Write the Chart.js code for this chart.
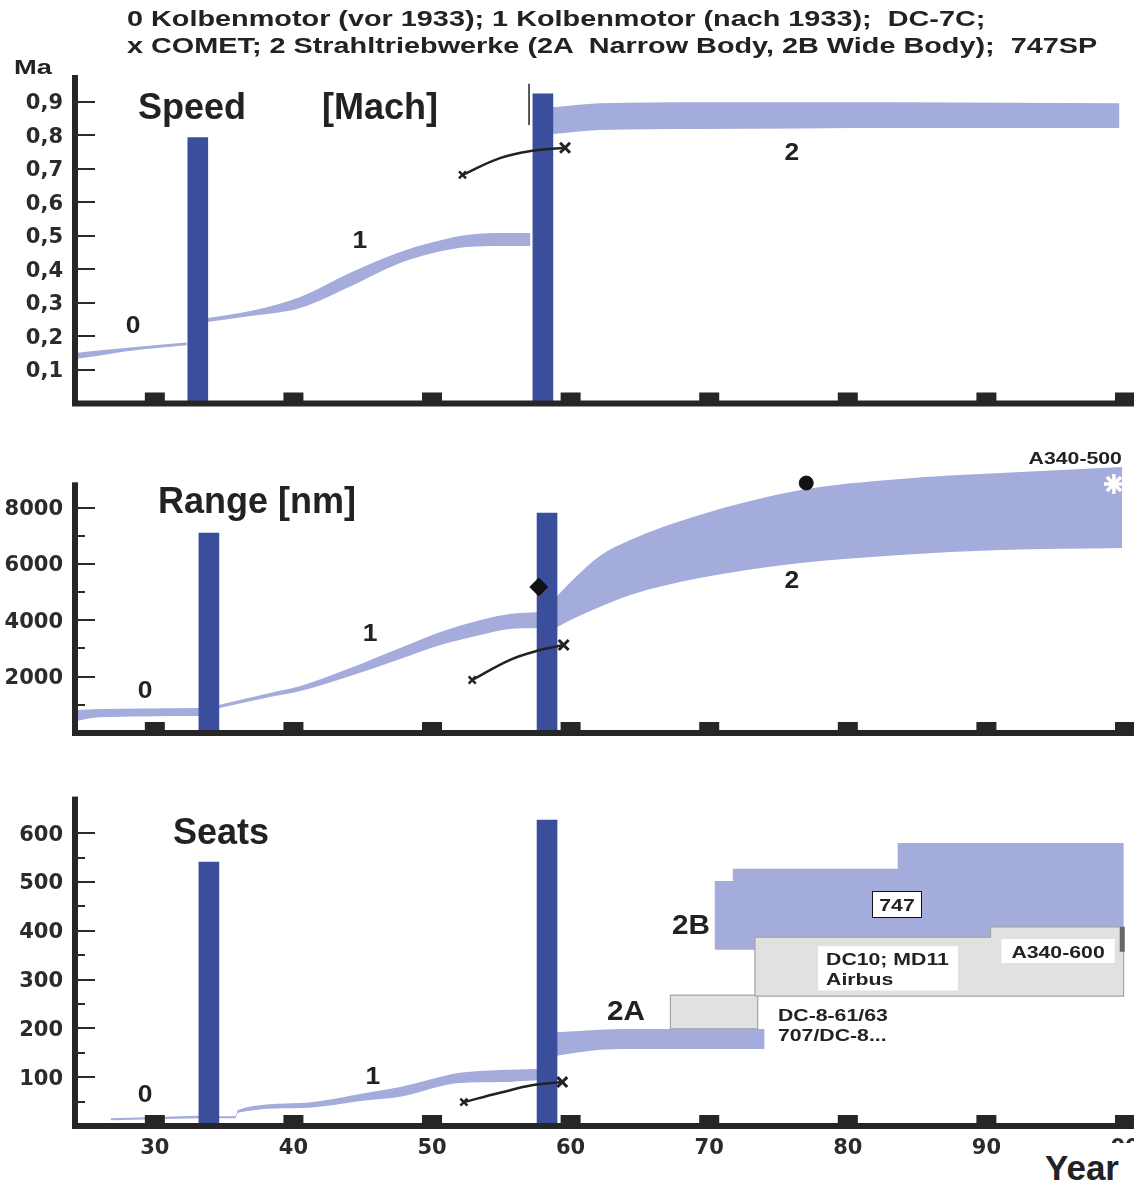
<!DOCTYPE html>
<html lang="de">
<head>
<meta charset="utf-8">
<title>Speed, Range, Seats</title>
<script src="https://cdn.jsdelivr.net/npm/chart.js@4/dist/chart.umd.min.js"></script>
<style>
  html, body { margin: 0; padding: 0; background: #fff; }
  body { position: relative; width: 1134px; height: 1187px; overflow: hidden;
         font-family: "Liberation Sans", Arial, sans-serif; color: #222; }
  canvas { position: absolute; left: 0; }
  #title { position: absolute; left: 127px; top: 5px; font-weight: bold; font-size: 22px;
           line-height: 27px; white-space: pre; transform: scaleX(1.31); transform-origin: 0 0; }
  #ma { position: absolute; left: 14px; top: 55px; font-weight: bold; font-size: 21px;
        line-height: 24px; transform: scaleX(1.3); transform-origin: 0 0; }
  #year { position: absolute; left: 1036px; top: 1143px; width: 98px; height: 44px; background: #fff;
          font-weight: bold; font-size: 35px; line-height: 50px; padding-left: 9px; box-sizing: border-box; }
</style>
</head>
<body>
<canvas id="speed" width="1134" height="420" style="top:0"></canvas>
<canvas id="range" width="1134" height="310" style="top:440px"></canvas>
<canvas id="seats" width="1134" height="407" style="top:780px"></canvas>
<div id="title">0 Kolbenmotor (vor 1933); 1 Kolbenmotor (nach 1933);  DC-7C;
x COMET; 2 Strahltriebwerke (2A  Narrow Body, 2B Wide Body);  747SP</div>
<div id="ma">Ma</div>
<div id="year">Year</div>
<script>
// ---------- shared year axis ----------
const yearTicks = [30, 40, 50, 60, 70, 80, 90, 100];

// ---------- Speed [Mach] ----------
const speedTicks = [0.1, 0.2, 0.3, 0.4, 0.5, 0.6, 0.7, 0.8, 0.9];
const speedStepYears = [33.1, 58.0];
const speedStepValues = [0.793, 0.924];
const speed0Years = [24.3, 24.6, 28.4, 32.3];
const speed0Low = [0.134, 0.135, 0.158, 0.174];
const speed0High = [0.150, 0.152, 0.168, 0.182];
const speed1Years = [33.8, 36.9, 40.5, 44.1, 47.7, 50.1, 52.5, 54.9, 57.1];
const speed1Low = [0.243, 0.261, 0.285, 0.349, 0.419, 0.449, 0.467, 0.470, 0.470];
const speed1High = [0.255, 0.276, 0.318, 0.390, 0.452, 0.482, 0.503, 0.509, 0.509];
const speed2Years = [58.7, 62.1, 69.3, 83.8, 99.6];
const speed2Low = [0.804, 0.816, 0.819, 0.822, 0.822];
const speed2High = [0.884, 0.896, 0.899, 0.899, 0.896];
const speedCometYears = [52.2, 54.9, 57.1, 59.6];
const speedCometValues = [0.682, 0.732, 0.753, 0.763];
const speedMarkYears = [57.0, 57.0];
const speedMarkValues = [0.831, 0.954];

// ---------- Range [nm] ----------
const rangeTicks = [1000, 2000, 3000, 4000, 5000, 6000, 7000, 8000];
const rangeStepYears = [33.9, 58.3];
const rangeStepValues = [7100, 7810];
const range0Years = [24.3, 26.0, 29.0, 33.2];
const range0Low = [430, 560, 590, 600];
const range0High = [816, 850, 870, 887];
const range1Years = [34.6, 38.3, 40.5, 44.1, 47.7, 50.6, 53.5, 55.6, 57.7];
const range1Low = [880, 1278, 1491, 2023, 2627, 3124, 3479, 3692, 3727];
const range1High = [990, 1420, 1668, 2307, 3017, 3585, 4011, 4224, 4295];
const range2Years = [58.4, 60.3, 62.1, 64.3, 69.3, 76.6, 83.8, 91.0, 99.8];
const range2Low = [3585, 4082, 4473, 4899, 5502, 6035, 6319, 6496, 6567];
const range2High = [4544, 5502, 6283, 6851, 7739, 8626, 9017, 9230, 9443];
const rangeCometYears = [52.9, 55.6, 57.8, 59.5];
const rangeCometValues = [1881, 2591, 2946, 3124];
const dc7cYear = [57.7], dc7cRange = [5183];
const b747spYear = [77.0], b747spRange = [8875];
const a340_500Year = [99.2], a340_500Range = [8839];

// ---------- Seats ----------
const seatsTicks = [50, 100, 150, 200, 250, 300, 350, 400, 450, 500, 550, 600];
const seatsStepYears = [33.9, 58.3];
const seatsStepValues = [541, 627];
const seats0Years = [26.8, 33.2];
const seats0Low = [12, 16];
const seats0High = [16, 21];
const seats1Years = [34.6, 35.8, 36.0, 40.5, 45.3, 47.7, 52.0, 54.9, 57.6];
const seats1Low = [16, 16, 27, 37, 53, 60, 88, 90, 94];
const seats1High = [20, 20, 33, 47, 68, 80, 109, 115, 117];
const seats2AYears = [58.4, 62.1, 64.0, 74.0];
const seats2ALow = [141, 156, 158, 158];
const seats2AHigh = [191, 197, 199, 199];
const seats2BYears = [70.4, 71.7, 83.6, 99.9];
const seats2BTops = [502, 527, 580];
const seats2BBase = 361;
const dc10Years = [73.3, 90.3, 99.9];
const dc10Tops = [387, 408];
const dc10Base = 266;
const dc8Years = [67.2, 73.5];
const dc8Tops = [268];
const dc8Base = 199;
const a340_600Years = [99.8, 99.8];
const a340_600Seats = [357, 408];
const seatsCometYears = [52.3, 54.9, 57.3, 59.4];
const seatsCometValues = [49, 68, 84, 90];

// ---------- styling ----------
const BAND = '#a4acdb';
const BAR = '#3a4e9c';
const INK = '#222';
const GREY_FILL = '#e1e1e1';
const GREY_EDGE = '#a3a3a3';
const TICK_FONT = { family: '"DejaVu Sans", sans-serif', weight: 'bold', size: 21 };
const YEAR_MIN = 24.24, YEAR_MAX = 100.65;

const pts = (xs, ys) => xs.map((x, i) => ({ x, y: ys[i] }));

function band(xs, lo, hi) {
  const common = { type: 'line', borderWidth: 0, borderColor: 'transparent', pointRadius: 0,
                   cubicInterpolationMode: 'monotone', order: 5 };
  return [
    { ...common, data: pts(xs, lo), fill: false },
    { ...common, data: pts(xs, hi), fill: '-1', backgroundColor: BAND }
  ];
}

function steps(xs, ys) {
  return { type: 'bar', data: pts(xs, ys), backgroundColor: BAR, borderWidth: 0,
           barThickness: 20, order: 1 };
}

function comet(xs, ys) {
  return { type: 'line', data: pts(xs, ys), borderColor: INK, borderWidth: 2.5, tension: 0.4,
           pointStyle: 'crossRot', pointRadius: [5, 0, 0, 7], pointBorderWidth: [2.5, 0, 0, 3],
           pointBorderColor: INK, pointBackgroundColor: INK, fill: false, order: 0 };
}

function marker(xs, ys, style, radius, fillCol, edgeCol, edgeW) {
  return { type: 'line', data: pts(xs, ys), showLine: false, pointStyle: style, pointRadius: radius,
           pointBackgroundColor: fillCol, pointBorderColor: edgeCol, pointBorderWidth: edgeW, order: 0 };
}

// closed outline of a stepped block: xs are edges, tops the level between them
function stepOutline(xs, tops, base) {
  const out = [{ x: xs[0], y: base }];
  tops.forEach((t, i) => out.push({ x: xs[i], y: t }, { x: xs[i + 1], y: t }));
  out.push({ x: xs[xs.length - 1], y: base }, { x: xs[0], y: base });
  return out;
}

function block(outline, fillCol, edgeCol, order) {
  return { type: 'line', data: outline, fill: 'shape', backgroundColor: fillCol,
           borderColor: edgeCol, borderWidth: edgeCol === 'transparent' ? 0 : 1.2,
           pointRadius: 0, tension: 0, order };
}

// axes, tick marks, year blocks and free labels
const panelDecor = {
  id: 'panelDecor',
  afterDatasetsDraw(chart, args, opts) {
    const { ctx, chartArea: a, scales: { x, y } } = chart;
    ctx.save();
    ctx.fillStyle = '#262626';
    ctx.strokeStyle = '#2a2a2a';
    const top = y.getPixelForValue(opts.axisTop);
    ctx.fillRect(a.left - 3, top, 6, a.bottom - top);
    ctx.lineWidth = 2;
    y.ticks.forEach(t => {
      const py = Math.round(y.getPixelForValue(t.value));
      const len = t.label === '' ? 10 : 20;
      ctx.beginPath();
      ctx.moveTo(a.left, py);
      ctx.lineTo(a.left + len, py);
      ctx.stroke();
    });
    ctx.fillRect(a.left - 3, a.bottom - 3, a.right - a.left + 3, 6);
    x.ticks.forEach(t => {
      const px = x.getPixelForValue(t.value);
      ctx.fillRect(px - 10, a.bottom - 11, 20, 9);
    });
    ctx.restore();
  },
  afterDraw(chart, args, opts) {
    const { ctx, scales: { x, y } } = chart;
    (opts.labels || []).forEach(l => {
      ctx.save();
      const size = l.size || 23, sx = l.sx || 1;
      ctx.font = `bold ${size}px "Liberation Sans", Arial, sans-serif`;
      const lines = l.text.split('\n');
      const lh = size * 1.18;
      const w = Math.max(...lines.map(s => ctx.measureText(s).width)) * sx;
      const h = lh * lines.length;
      const px = x.getPixelForValue(l.x), py = y.getPixelForValue(l.y);
      const left = l.align === 'left' ? px : l.align === 'right' ? px - w : px - w / 2;
      const topY = py - h / 2;
      if (l.box) {
        const bw = l.boxW || w + 2 * (l.padX || 7);
        const bh = h + 2 * (l.padY || 3);
        const bx = l.align === 'left' ? left - (l.padX || 7) : px - bw / 2;
        ctx.fillStyle = '#fff';
        ctx.fillRect(bx, py - bh / 2, bw, bh);
        if (l.border) {
          ctx.strokeStyle = '#111';
          ctx.lineWidth = 1;
          ctx.strokeRect(Math.round(bx) + 0.5, Math.round(py - bh / 2) + 0.5, Math.round(bw), Math.round(bh));
        }
      }
      ctx.fillStyle = l.color || INK;
      ctx.textBaseline = 'middle';
      ctx.textAlign = 'left';
      lines.forEach((s, i) => {
        ctx.save();
        ctx.translate(left, topY + lh * (i + 0.5) + 2);
        ctx.scale(sx, 1);
        ctx.fillText(s, 0, 0);
        ctx.restore();
      });
      ctx.restore();
    });
  }
};

function options({ yMin, yMax, yTicks, yFmt, axisTop, labels, padTop, padBottom, showYears }) {
  return {
    responsive: false,
    animation: false,
    events: [],
    layout: { autoPadding: false, padding: { top: padTop, bottom: padBottom, left: 0, right: 0 } },
    plugins: { legend: { display: false }, tooltip: { enabled: false },
               panelDecor: { axisTop, labels } },
    scales: {
      x: {
        type: 'linear', min: YEAR_MIN, max: YEAR_MAX, offset: false, display: showYears,
        afterBuildTicks: s => { s.ticks = yearTicks.map(value => ({ value })); },
        afterFit: s => { s.height = showYears ? 40 : 0; s.paddingLeft = 0; s.paddingRight = 0; },
        grid: { display: false, drawTicks: false, offset: false }, border: { display: false },
        ticks: { autoSkip: false, maxRotation: 0, padding: 10, color: '#2b2b2b', font: TICK_FONT,
                 callback: v => (v === 100 ? '00' : String(v)) }
      },
      y: {
        type: 'linear', min: yMin, max: yMax,
        afterBuildTicks: s => { s.ticks = yTicks.map(value => ({ value })); },
        afterFit: s => { s.width = 75; s.paddingTop = 0; s.paddingBottom = 0; },
        grid: { display: false, drawTicks: false }, border: { display: false },
        ticks: { autoSkip: false, padding: 12, labelOffset: 2, color: '#2b2b2b', font: TICK_FONT,
                 callback: yFmt }
      }
    }
  };
}

// ---------- Speed ----------
new Chart(document.getElementById('speed'), {
  type: 'line',
  data: { datasets: [
    comet(speedCometYears, speedCometValues),
    { type: 'line', data: pts(speedMarkYears, speedMarkValues), borderColor: INK, borderWidth: 1.5,
      pointRadius: 0, fill: false, order: 0 },
    steps(speedStepYears, speedStepValues),
    ...band(speed0Years, speed0Low, speed0High),
    ...band(speed1Years, speed1Low, speed1High),
    ...band(speed2Years, speed2Low, speed2High)
  ] },
  options: options({
    yMin: 0, yMax: 0.98, yTicks: speedTicks, axisTop: 0.98, padTop: 75, padBottom: 16.5, showYears: false,
    yFmt: v => v.toFixed(1).replace('.', ','),
    labels: [
      { text: 'Speed', x: 28.79, y: 0.884, size: 36, align: 'left' },
      { text: '[Mach]', x: 42.06, y: 0.884, size: 36, align: 'left' },
      { text: '0', x: 28.43, y: 0.234, sx: 1.15 },
      { text: '1', x: 44.80, y: 0.488, sx: 1.15 },
      { text: '2', x: 75.97, y: 0.751, sx: 1.15 }
    ]
  }),
  plugins: [panelDecor]
});

// ---------- Range ----------
new Chart(document.getElementById('range'), {
  type: 'line',
  data: { datasets: [
    comet(rangeCometYears, rangeCometValues),
    marker(dc7cYear, dc7cRange, 'rectRot', 9, '#111', '#111', 1),
    marker(b747spYear, b747spRange, 'circle', 7, '#111', '#111', 1),
    marker(a340_500Year, a340_500Range, 'star', 10, '#fff', '#fff', 3.5),
    steps(rangeStepYears, rangeStepValues),
    ...band(range0Years, range0Low, range0High),
    ...band(range1Years, range1Low, range1High),
    ...band(range2Years, range2Low, range2High)
  ] },
  options: options({
    yMin: 0, yMax: 9600, yTicks: rangeTicks, axisTop: 8900, padTop: 22.6, padBottom: 17, showYears: false,
    yFmt: v => (v % 2000 === 0 ? String(v) : ''),
    labels: [
      { text: 'Range [nm]', x: 30.23, y: 8230, size: 36, align: 'left' },
      { text: '0', x: 29.29, y: 1526, sx: 1.15 },
      { text: '1', x: 45.53, y: 3550, sx: 1.15 },
      { text: '2', x: 75.97, y: 5431, sx: 1.15 },
      { text: 'A340-500', x: 99.78, y: 9798, size: 17, sx: 1.25, align: 'right' }
    ]
  }),
  plugins: [panelDecor]
});

// ---------- Seats ----------
new Chart(document.getElementById('seats'), {
  type: 'line',
  data: { datasets: [
    comet(seatsCometYears, seatsCometValues),
    steps(seatsStepYears, seatsStepValues),
    { type: 'line', data: pts(a340_600Years, a340_600Seats), borderColor: '#666', borderWidth: 5,
      pointRadius: 0, fill: false, order: 2 },
    block(stepOutline(dc10Years, dc10Tops, dc10Base), GREY_FILL, GREY_EDGE, 3),
    block(stepOutline(dc8Years, dc8Tops, dc8Base), GREY_FILL, GREY_EDGE, 3),
    block(stepOutline(seats2BYears, seats2BTops, seats2BBase), BAND, 'transparent', 4),
    ...band(seats0Years, seats0Low, seats0High),
    ...band(seats1Years, seats1Low, seats1High),
    ...band(seats2AYears, seats2ALow, seats2AHigh)
  ] },
  options: options({
    yMin: 0, yMax: 675, yTicks: seatsTicks, axisTop: 675, padTop: 16.6, padBottom: 21, showYears: true,
    yFmt: v => (v % 100 === 0 ? String(v) : ''),
    labels: [
      { text: 'Seats', x: 31.31, y: 602, size: 36, align: 'left' },
      { text: '0', x: 29.29, y: 65.6, sx: 1.15 },
      { text: '1', x: 45.74, y: 102.5, sx: 1.15 },
      { text: '2A', x: 64.0, y: 235.7, size: 27, sx: 1.1 },
      { text: '2B', x: 68.69, y: 411.9, size: 27, sx: 1.1 },
      { text: '747', x: 83.55, y: 454.9, size: 17, sx: 1.25, box: true, border: true, padX: 7, padY: 3 },
      { text: 'DC10; MD11\nAirbus', x: 78.43, y: 323, size: 17, sx: 1.25, align: 'left',
        box: true, padX: 8, padY: 2, boxW: 140 },
      { text: 'A340-600', x: 95.17, y: 358.6, size: 17, sx: 1.25, box: true, padX: 10, padY: 2 },
      { text: 'DC-8-61/63\n707/DC-8...', x: 74.96, y: 208, size: 17, sx: 1.25, align: 'left' }
    ]
  }),
  plugins: [panelDecor]
});
</script>
</body>
</html>
